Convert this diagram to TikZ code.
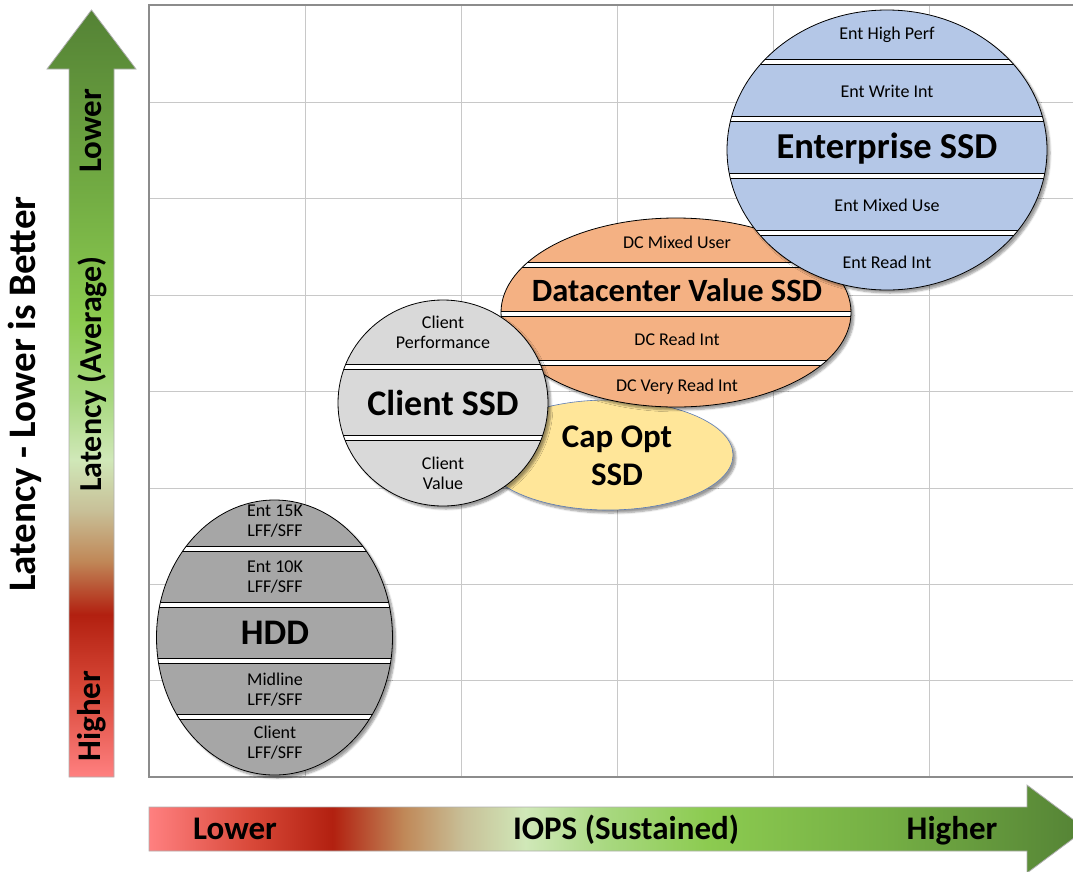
\documentclass[tikz,border=0pt]{standalone}
\usepackage{fontspec}
\setmainfont{Carlito}
\usetikzlibrary{shadows.blur}
\definecolor{gridc}{HTML}{C8C8C8}
\definecolor{framec}{HTML}{8C8C8C}
\definecolor{hddfill}{HTML}{A6A6A6}
\definecolor{clifill}{HTML}{D9D9D9}
\definecolor{capfill}{HTML}{FFE699}
\definecolor{dcfill}{HTML}{F4B183}
\definecolor{entfill}{HTML}{B4C7E7}
\definecolor{capline}{HTML}{5B7BB5}
\definecolor{g1}{HTML}{FF8080}
\definecolor{g2}{HTML}{D84838}
\definecolor{g3}{HTML}{B22010}
\definecolor{g4}{HTML}{C08858}
\definecolor{g5}{HTML}{C8C098}
\definecolor{g6}{HTML}{D0E8B8}
\definecolor{g7}{HTML}{A8D880}
\definecolor{g8}{HTML}{8CCB50}
\definecolor{g9}{HTML}{74AE44}
\definecolor{g10}{HTML}{548235}
\pgfdeclareverticalshading{latshade}{100bp}{color(0bp)=(g1); color(25bp)=(g1); color(30.7bp)=(g2); color(35.6bp)=(g3); color(39.1bp)=(g4); color(42.4bp)=(g5); color(45.7bp)=(g6); color(49.6bp)=(g7); color(54.8bp)=(g8); color(62.6bp)=(g9); color(75bp)=(g10); color(100bp)=(g10)}
\pgfdeclarehorizontalshading{iopsshade}{100bp}{color(0bp)=(g1); color(25bp)=(g1); color(30.5bp)=(g2); color(34.8bp)=(g3); color(38.6bp)=(g4); color(41.8bp)=(g5); color(45.1bp)=(g6); color(49.4bp)=(g7); color(54.8bp)=(g8); color(64.6bp)=(g9); color(75bp)=(g10); color(100bp)=(g10)}
\tikzset{
  gridline/.style={draw=gridc, line width=1pt},
  frameline/.style={draw=framec, line width=1.6pt},
  arrowshape/.style={draw=framec!70, line width=0.8pt},
  shad/.style={blur shadow={shadow xshift=3pt, shadow yshift=-3pt, shadow blur steps=6, shadow opacity=40}},
  small/.style={font=\fontsize{18}{20}\selectfont, align=center, inner sep=0pt},
  big/.style={font=\fontsize{36}{40}\selectfont\bfseries, align=center, inner sep=0pt},
  axislbl/.style={font=\fontsize{33}{36}\selectfont\bfseries, inner sep=0pt},
  outline/.style={draw=black, line width=0.8pt},
}
\newcommand{\sepband}[3]{% x-left, x-right, y
  \fill[black] (#1,#3-3.2) rectangle (#2,#3+3.2);
  \fill[white] (#1,#3-1.8) rectangle (#2,#3+1.6);}
\begin{document}
\begin{tikzpicture}[x=1pt,y=-1pt]
\useasboundingbox (0,0) rectangle (1073,871);
\clip (0,0) rectangle (1073,871);
% grid
\foreach \gx in {305,461,617,773,929} \draw[gridline] (\gx,5) -- (\gx,777);
\foreach \gy in {102,198,295,391,488,584,680} \draw[gridline] (149,\gy) -- (1080,\gy);
\draw[frameline] (1080,5) -- (149,5) -- (149,777) -- (1080,777);
% latency arrow
\path[arrowshape, shading=latshade] (69,777) -- (69,69) -- (47,69) -- (91.5,10) -- (136,69) -- (114,69) -- (114,777) -- cycle;
% IOPS arrow
\path[arrowshape, shading=iopsshade] (149,807) -- (1027,807) -- (1027,785) -- (1086,829) -- (1027,873) -- (1027,851) -- (149,851) -- cycle;
% axis texts
\node[font=\fontsize{39}{42}\selectfont\bfseries, rotate=90, inner sep=0pt] (ytitle) at (25,394) {Latency - Lower is Better};
\node[font=\fontsize{32}{36}\selectfont\bfseries, rotate=90, inner sep=0pt] (ylbl) at (92,374) {Latency (Average)};
\node[axislbl, rotate=90] (ylow) at (91,131) {Lower};
\node[axislbl, rotate=90] (yhigh) at (92,716) {Higher};
\node[axislbl] (xlow) at (235,829) {Lower};
\node[axislbl] (xlbl) at (626,830) {IOPS (Sustained)};
\node[axislbl] (xhigh) at (952,831) {Higher};
% HDD
\path[fill=hddfill, shad] (274.5,637.5) ellipse [x radius=118pt, y radius=137.5pt];
\begin{scope}
\clip (274.5,637.5) ellipse [x radius=118pt, y radius=137.5pt];
\foreach \sy in {549,605,661,717} {\sepband{140}{410}{\sy}}
\end{scope}
\draw[outline] (274.5,637.5) ellipse [x radius=118pt, y radius=137.5pt];
\node[small] (h1) at (275,521) {Ent 15K\\LFF/SFF};
\node[small] (h2) at (275,577) {Ent 10K\\LFF/SFF};
\node[big] (hdd) at (275,633) {HDD};
\node[small] (h3) at (275,690) {Midline\\LFF/SFF};
\node[small] (h4) at (275,743) {Client\\LFF/SFF};
% Cap Opt
\path[fill=capfill, draw=capline, line width=0.6pt, shad] (608,455) ellipse [x radius=125pt, y radius=55pt];
\node[font=\fontsize{33}{38}\selectfont\bfseries, align=center, inner sep=0pt] (cap) at (617,456) {Cap Opt\\SSD};
% Datacenter
\path[fill=dcfill, shad] (676,312.5) ellipse [x radius=175pt, y radius=94.5pt];
\begin{scope}
\clip (676,312.5) ellipse [x radius=175pt, y radius=94.5pt];
\foreach \sy in {265,314,363} {\sepband{490}{860}{\sy}}
\end{scope}
\draw[outline] (676,312.5) ellipse [x radius=175pt, y radius=94.5pt];
\node[small] (d1) at (677,242) {DC Mixed User};
\node[font=\fontsize{32.5}{36}\selectfont\bfseries, inner sep=0pt] (dc) at (677,290) {Datacenter Value SSD};
\node[small] (d2) at (677,339) {DC Read Int};
\node[small] (d3) at (677,387) {DC Very Read Int};
% Client SSD
\path[fill=clifill, shad] (443,403) ellipse [x radius=105pt, y radius=103pt];
\begin{scope}
\clip (443,403) ellipse [x radius=105pt, y radius=103pt];
\foreach \sy in {367,438} {\sepband{330}{560}{\sy}}
\end{scope}
\draw[outline] (443,403) ellipse [x radius=105pt, y radius=103pt];
\node[small] (c1) at (443,332) {Client\\Performance};
\node[big] (cli) at (443,403) {Client SSD};
\node[small] (c2) at (443,473) {Client\\Value};
% Enterprise
\path[fill=entfill, shad] (887,150) ellipse [x radius=160pt, y radius=140pt];
\begin{scope}
\clip (887,150) ellipse [x radius=160pt, y radius=140pt];
\foreach \sy in {62,119,176,233} {\sepband{720}{1060}{\sy}}
\end{scope}
\draw[outline] (887,150) ellipse [x radius=160pt, y radius=140pt];
\node[small] (e1) at (887,35) {Ent High Perf};
\node[small] (e2) at (887,91) {Ent Write Int};
\node[font=\fontsize{36.5}{40}\selectfont\bfseries, inner sep=0pt] (ent) at (887,149) {Enterprise SSD};
\node[small] (e3) at (887,205) {Ent Mixed Use};
\node[small] (e4) at (887,262) {Ent Read Int};
\end{tikzpicture}
\end{document}
